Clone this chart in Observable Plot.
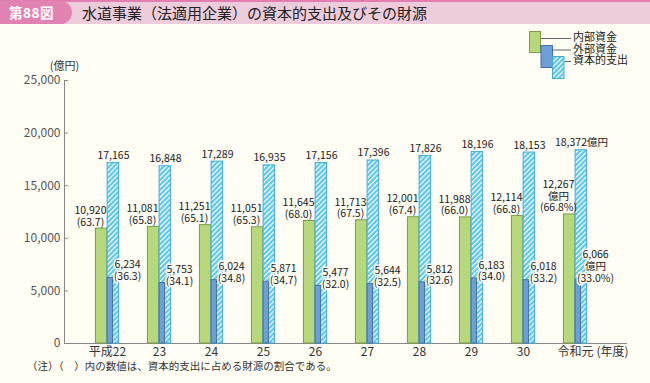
<!DOCTYPE html>
<html><head><meta charset="utf-8">
<script src="https://cdn.jsdelivr.net/npm/d3@7"></script>
<script src="https://cdn.jsdelivr.net/npm/@observablehq/plot@0.6"></script>
<style>
body{margin:0;background:#fffdf4;font-family:"Noto Sans CJK JP","Noto Sans",sans-serif;}
#wrap{position:relative;width:650px;height:383px;overflow:hidden;background:#fffdf4;}
#chart{position:absolute;left:0;top:0;}
#bar{position:absolute;left:0;top:0;width:650px;height:24px;background:#ecccda;border-top:2px solid #e27db0;box-sizing:border-box;}
#tag{position:absolute;left:0;top:1px;width:72px;height:23px;background:#e183b2;border-radius:0 12px 12px 0;color:#fff;font-weight:bold;font-size:13.5px;line-height:23px;text-indent:9px;letter-spacing:0.5px;}
#title{position:absolute;left:82px;top:1px;height:23px;line-height:23px;font-size:15px;color:#222;}
#note{position:absolute;left:27px;top:358px;font-size:10.5px;color:#333;}
#legend{position:absolute;left:0;top:0;}
</style>
</head><body>
<div id="wrap">
  <div id="chart"></div>
  <div id="bar"></div>
  <div id="tag">第88図</div>
  <div id="title">水道事業（法適用企業）の資本的支出及びその財源</div>
  <svg id="legend" width="650" height="90" font-family="Noto Sans CJK JP, Noto Sans, sans-serif">
    <defs>
      <pattern id="hatchL" patternUnits="userSpaceOnUse" width="3.5" height="3.5" patternTransform="rotate(45)">
        <rect width="3.5" height="3.5" fill="#5ec6ea"></rect>
        <rect width="1.2" height="3.5" fill="#ffffff"></rect>
      </pattern>
    </defs>
    <rect x="529.5" y="31.5" width="11" height="21" fill="#b6d77a" stroke="#7c9c48"></rect>
    <rect x="541" y="45.5" width="11.5" height="22" fill="#6e9fd8" stroke="#3f70aa"></rect>
    <rect x="552.5" y="56.5" width="11.5" height="22" fill="url(#hatchL)" stroke="#45acd6"></rect>
    <line x1="541" y1="38.5" x2="571" y2="38.5" stroke="#666"></line>
    <line x1="553" y1="50" x2="571" y2="50" stroke="#666"></line>
    <line x1="564.5" y1="61.5" x2="571" y2="61.5" stroke="#666"></line>
    <text x="573" y="38.5" font-size="11" dominant-baseline="middle" fill="#222">内部資金</text>
    <text x="573" y="50" font-size="11" dominant-baseline="middle" fill="#222">外部資金</text>
    <text x="573" y="61.5" font-size="11" dominant-baseline="middle" fill="#222">資本的支出</text>
  </svg>
  <div id="note">（注）（　）内の数値は、資本的支出に占める財源の割合である。</div>
</div>
<script>
const years = ["平成22","23","24","25","26","27","28","29","30","令和元"];
const internal = [10920,11081,11251,11051,11645,11713,12001,11988,12114,12267];
const internalPct = [63.7,65.8,65.1,65.3,68.0,67.5,67.4,66.0,66.8,66.8];
const external = [6234,5753,6024,5871,5477,5644,5812,6183,6018,6066];
const externalPct = [36.3,34.1,34.8,34.7,32.0,32.5,32.6,34.0,33.2,33.0];
const capex = [17165,16848,17289,16935,17156,17396,17826,18196,18153,18372];
const yTicks = [0,5000,10000,15000,20000,25000];
const unit = "億円";
const yearUnit = "(年度)";

const fmt = d3.format(",");
const last = years.length - 1;
const data = years.map((year, i) => ({
  year,
  internal: internal[i],
  external: external[i],
  capex: capex[i],
  gLabel: i === last ? `${fmt(internal[i])}\n${unit}\n(${internalPct[i].toFixed(1)}%)` : `${fmt(internal[i])}\n(${internalPct[i].toFixed(1)})`,
  bLabel: i === last ? `${fmt(external[i])}\n${unit}\n(${externalPct[i].toFixed(1)}%)` : `${fmt(external[i])}\n(${externalPct[i].toFixed(1)})`,
  cLabel: i === last ? `${fmt(capex[i])}${unit}` : fmt(capex[i])
}));

const hatchDefs = () => {
  const defs = d3.create("svg:defs");
  const p = defs.append("pattern").attr("id", "hatch").attr("patternUnits", "userSpaceOnUse")
    .attr("width", 3.5).attr("height", 3.5).attr("patternTransform", "rotate(45)");
  p.append("rect").attr("width", 3.5).attr("height", 3.5).attr("fill", "#5ec6ea");
  p.append("rect").attr("width", 1.2).attr("height", 3.5).attr("fill", "#ffffff");
  return defs.node();
};

const bg = "#fffdf4";
const font = "'Noto Sans CJK JP','Noto Sans',sans-serif";
const lblSize = 10.5;

const chart = Plot.plot({
  width: 650,
  height: 383,
  marginLeft: 64,
  marginRight: 23,
  marginTop: 80,
  marginBottom: 40,
  style: {background: "transparent", fontFamily: font, color: "#333"},
  x: {domain: years, range: [79.6, 602.1], padding: 0},
  y: {domain: [0, 25000]},
  marks: [
    hatchDefs,
    Plot.axisY(yTicks, {tickSize: 0, tickPadding: 4, fontSize: 12, fill: "#555", label: null, tickFormat: fmt}),
    Plot.axisX({tickSize: 0, tickPadding: 4, fontSize: 12, fill: "#333", label: null}),
    Plot.text([yearUnit], {x: () => years[last], frameAnchor: "bottom", text: d => d, dx: 21, dy: 4, textAnchor: "start", lineAnchor: "top", fontSize: 12, fill: "#333"}),
    Plot.ruleY(yTicks, {y: d => d, insetRight: 559, stroke: "#888"}),
    Plot.frame({anchor: "left", stroke: "#888"}),
    Plot.ruleY([0], {stroke: "#888"}),
    Plot.barY(data, {x: "year", y: "internal", fill: "#b6d77a", stroke: "#7c9c48", strokeWidth: 1, insetLeft: 14.4, insetRight: 26.1}),
    Plot.barY(data, {x: "year", y: "capex", fill: "url(#hatch)", stroke: "#45acd6", strokeWidth: 1, insetLeft: 26.1, insetRight: 14.4}),
    Plot.barY(data, {x: "year", y: "external", fill: "#6e9fd8", stroke: "#3f70aa", strokeWidth: 1, insetLeft: 26.1, insetRight: 20.6}),
    Plot.text(data, {x: "year", y: "internal", text: "gLabel", dx: -17, dy: -3, lineAnchor: "bottom", fontSize: lblSize, lineHeight: 1.12, fill: "#1a1a1a"}),
    Plot.text(data, {x: "year", y: "capex", text: "cLabel", dx: 6, dy: -4, lineAnchor: "bottom", fontSize: lblSize, fill: "#1a1a1a"}),
    Plot.text(data, {x: "year", y: "external", text: "bLabel", dx: 20, dy: 2, lineAnchor: "bottom", fontSize: lblSize, lineHeight: 1.12, fill: "#1a1a1a", stroke: bg, strokeWidth: 3, paintOrder: "stroke"}),
    Plot.text([unit], {frameAnchor: "top-left", text: d => `(${d})`, dy: -14, fontSize: 11, fill: "#333", textAnchor: "middle", lineAnchor: "middle"})
  ]
});
document.getElementById("chart").appendChild(chart);
</script>
</body></html>
